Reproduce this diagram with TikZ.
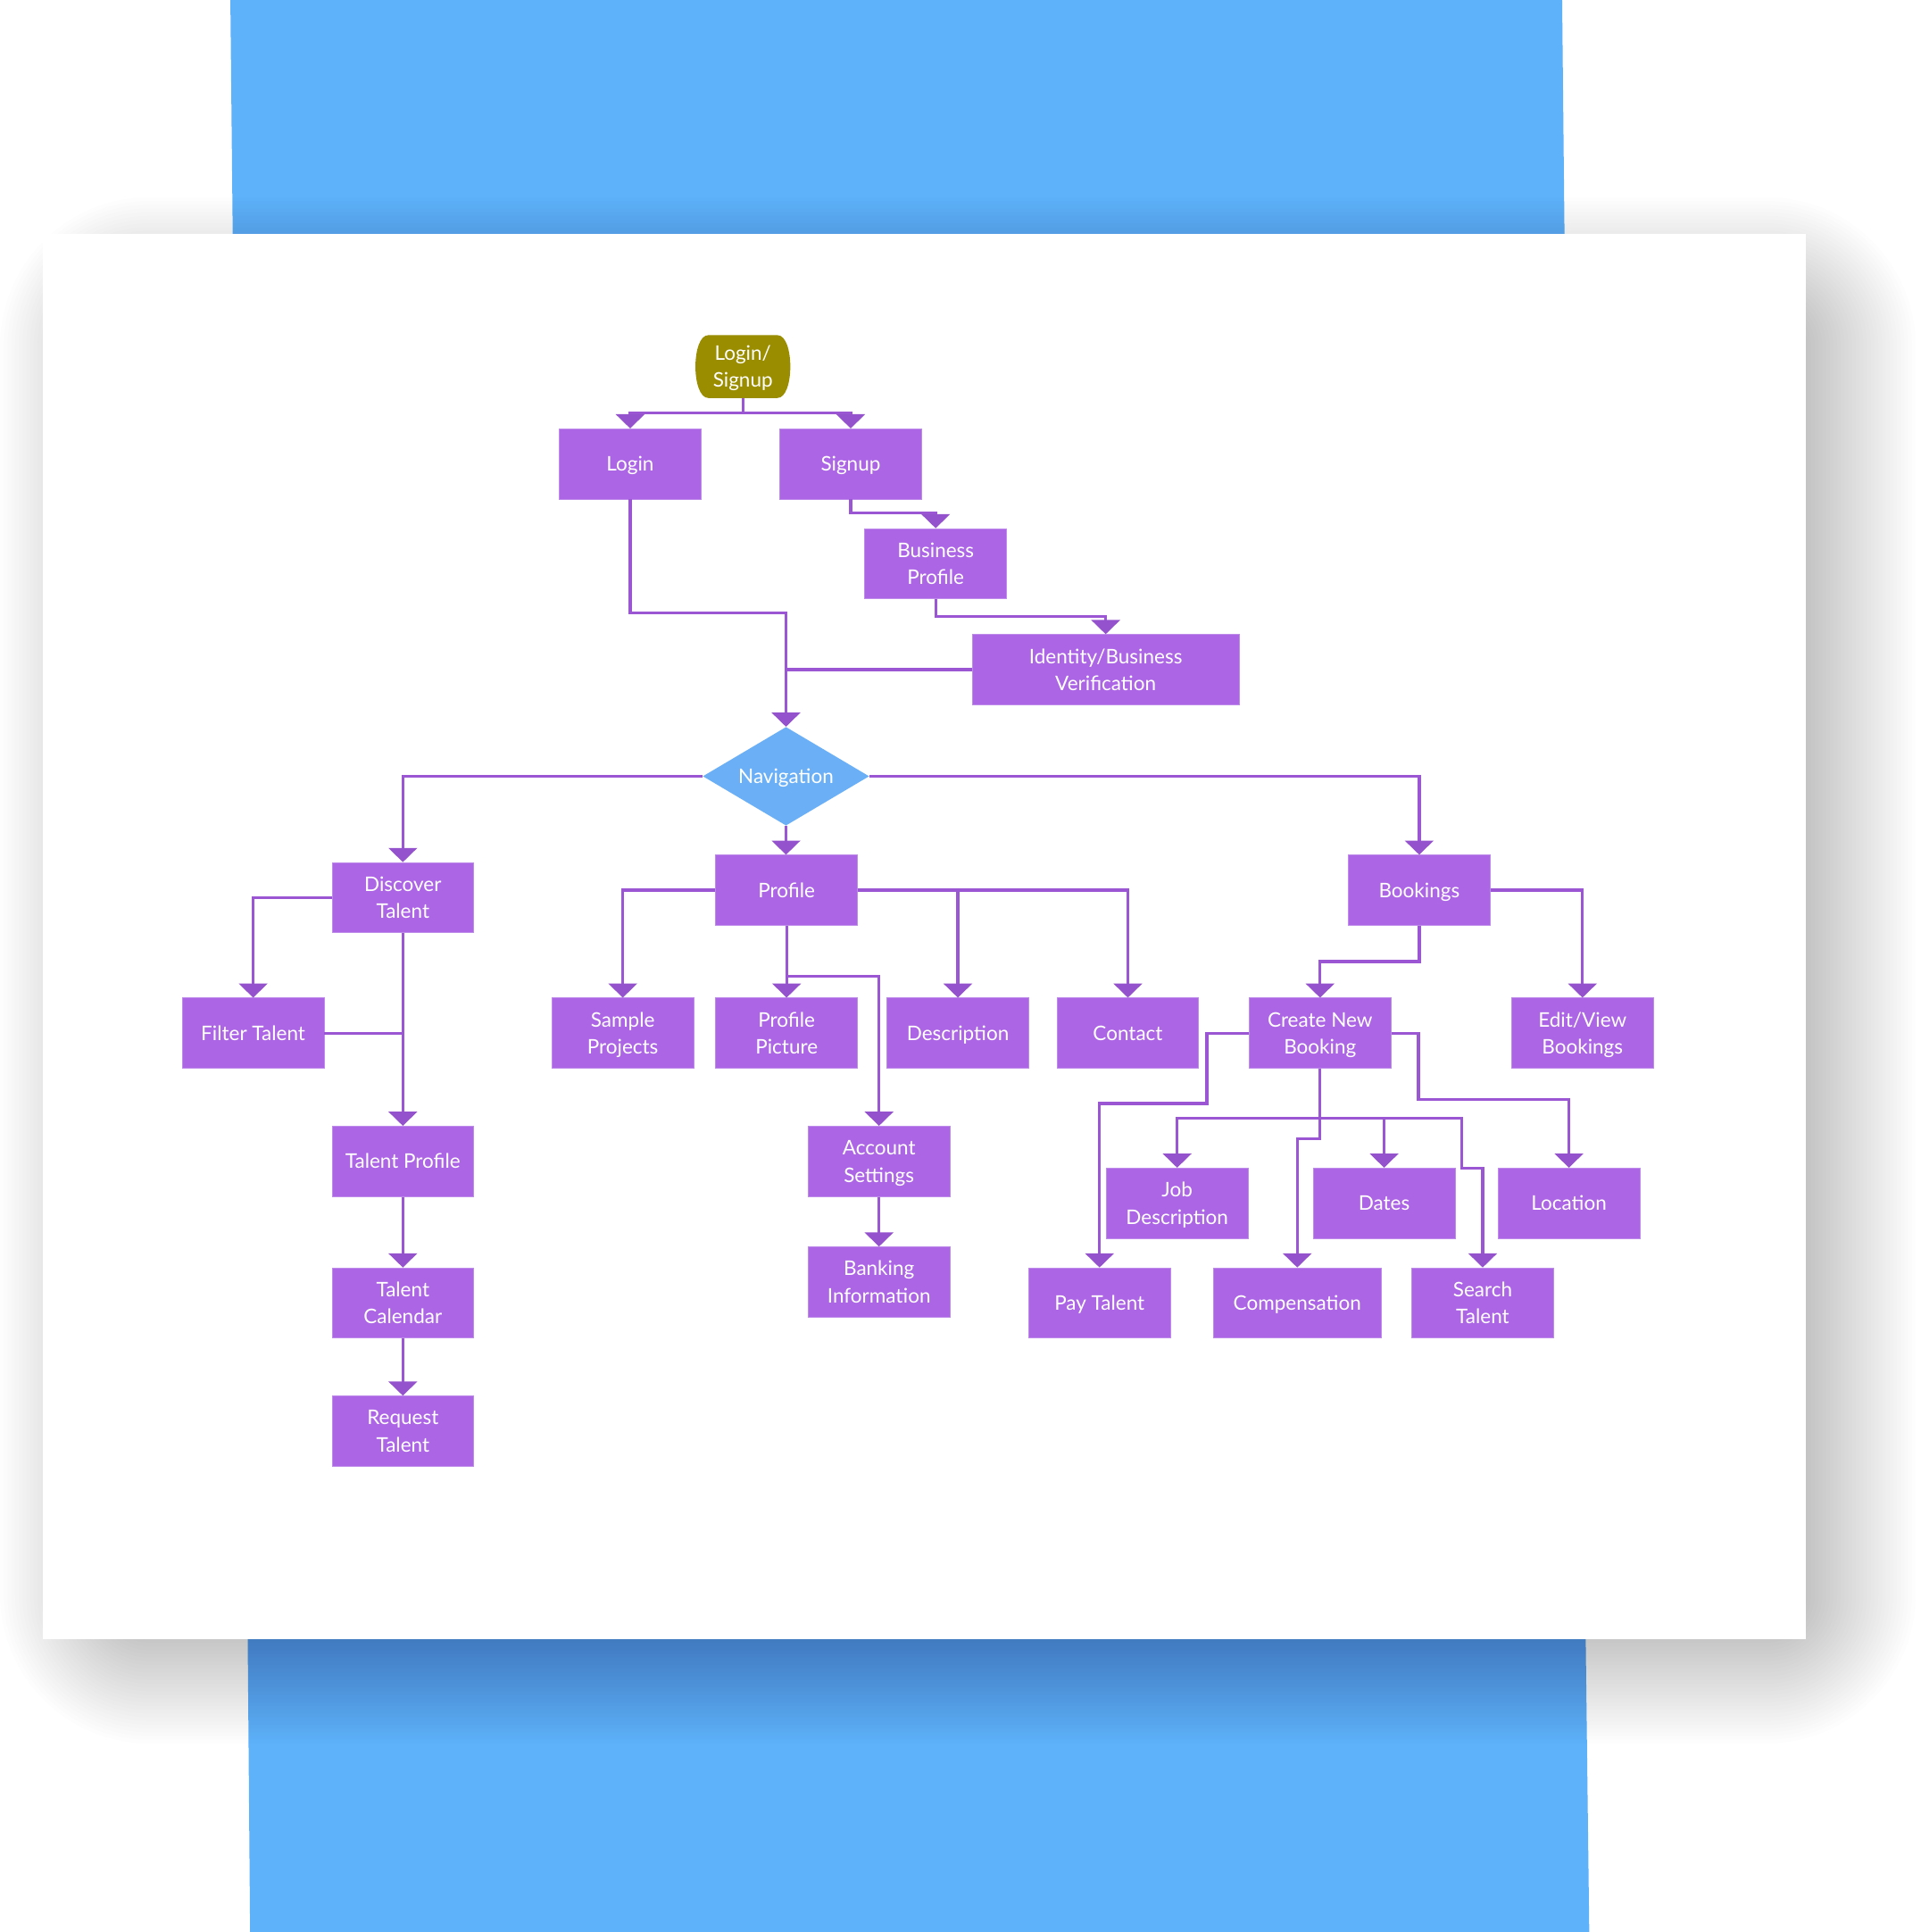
\documentclass[tikz,border=0pt]{standalone}
\usepackage{fontspec}
\setmainfont{Lato}
\usetikzlibrary{arrows.meta,shapes.geometric,calc}
\definecolor{bandblue}{HTML}{5DB2F9}
\definecolor{boxpurple}{HTML}{AC65E4}
\definecolor{boxedge}{HTML}{BE8BEA}
\definecolor{linepurple}{HTML}{9B57D3}
\definecolor{arrowpurple}{HTML}{9452CD}
\definecolor{navblue}{HTML}{6BB0F7}
\definecolor{olivegreen}{HTML}{9A8E00}
\newcommand{\cl}[1]{\raisebox{0pt}[11.8pt][0pt]{#1}}
\begin{document}
\begin{tikzpicture}[x=1pt,y=-1pt,
  lbl/.style={text=white, font=\fontsize{16.3}{22}\selectfont, align=center},
  box/.style={lbl, rectangle, fill=boxpurple, draw=boxedge, line width=0.6pt, minimum width=115pt, minimum height=57pt, inner sep=2pt},
  ln/.style={draw=linepurple, line width=2.4pt},
  arr/.style={ln, -{Triangle[width=23pt,length=11.5pt,color=arrowpurple]}},
]
% canvas
\useasboundingbox (0,0) rectangle (1559,1568);
\fill[white] (0,0) rectangle (1559,1568);
% blue bands
\fill[bandblue] (187,0) -- (1268,0) -- (1270,200) -- (189,200) -- cycle;
\fill[bandblue] (201,1320) -- (1287,1320) -- (1290,1568) -- (203,1568) -- cycle;
% card shadow (soft, layered)
\foreach \i in {0,...,39}{
  \pgfmathsetmacro{\d}{\i*3.03}
  \pgfmathsetmacro{\r}{max(121-\d,1)}
  \fill[black, opacity=0.0089, rounded corners=\r pt]
    ({0+\d},{160+\d}) rectangle ({1555-\d},{1415-\d});
}
% card
\fill[white] (35,190) rectangle (1466,1330);

% start terminator (barrel shape)
\fill[olivegreen] (575,272) -- (631,272) .. controls (645,272) and (645,323) .. (631,323)
  -- (575,323) .. controls (561,323) and (561,272) .. (575,272) -- cycle;
\node[lbl, minimum width=77pt, minimum height=51pt, inner sep=0pt] (ls) at (603,297.5) {\cl{Login/}\\\cl{Signup}};

% nodes
\node[box] (login) at (511.5,376.5) {\cl{Login}};
\node[box] (signup) at (690.5,376.5) {\cl{Signup}};
\node[box] (bp) at (759.5,457.5) {\cl{Business}\\\cl{Profile}};
\node[box, minimum width=217pt] (idv) at (897.5,543.5) {\cl{Identity/Business}\\\cl{Verification}};
\node[lbl, diamond, fill=navblue, minimum width=135pt, minimum height=80pt, inner sep=0pt, aspect=1.7] (nav) at (638,630) {\cl{Navigation}};
\node[box] (dt) at (327,728.5) {\cl{Discover}\\\cl{Talent}};
\node[box] (prof) at (638.5,722.5) {\cl{Profile}};
\node[box] (bk) at (1152,722.5) {\cl{Bookings}};
\node[box] (ft) at (205.5,838.5) {\cl{Filter Talent}};
\node[box] (sp) at (505.5,838.5) {\cl{Sample}\\\cl{Projects}};
\node[box] (pp) at (638.5,838.5) {\cl{Profile}\\\cl{Picture}};
\node[box] (desc) at (777.5,838.5) {\cl{Description}};
\node[box] (cont) at (915.5,838.5) {\cl{Contact}};
\node[box] (cnb) at (1071.5,838.5) {\cl{Create New}\\\cl{Booking}};
\node[box] (ev) at (1284.5,838.5) {\cl{Edit/View}\\\cl{Bookings}};
\node[box] (tp) at (327,942.5) {\cl{Talent Profile}};
\node[box] (as) at (713.5,942.5) {\cl{Account}\\\cl{Settings}};
\node[box] (jd) at (955.5,976.5) {\cl{Job}\\\cl{Description}};
\node[box] (dates) at (1123.5,976.5) {\cl{Dates}};
\node[box] (loc) at (1273.5,976.5) {\cl{Location}};
\node[box] (bi) at (713.5,1040.5) {\cl{Banking}\\\cl{Information}};
\node[box] (tc) at (327,1057.5) {\cl{Talent}\\\cl{Calendar}};
\node[box] (pay) at (892.5,1057.5) {\cl{Pay Talent}};
\node[box, minimum width=136pt] (comp) at (1053,1057.5) {\cl{Compensation}};
\node[box] (st) at (1203.5,1057.5) {\cl{Search}\\\cl{Talent}};
\node[box] (rt) at (327,1161.5) {\cl{Request}\\\cl{Talent}};

% connectors
\path (ls.south) ++(0,12) coordinate (lsj);
\draw[ln] (ls.south) -- (lsj);
\draw[arr] (lsj) -| (login.north);
\draw[arr] (lsj) -| (signup.north);
\draw[arr] (signup.south) -- ++(0,11) -| (bp.north);
\draw[arr] (bp.south) -- ++(0,14) -| (idv.north);
\draw[arr] (login.south) -- ++(0,92) -| (nav.north);
\draw[ln] (idv.west) -- (idv.west -| nav.north);
\draw[arr] (nav.west) -| (dt.north);
\draw[arr] (nav.east) -| (bk.north);
\draw[arr] (nav.south) -- (nav.south |- prof.north);
% discover branch
\draw[arr] (dt.west) -| (ft.north);
\draw[arr] (dt.south) -- (tp.north);
\draw[ln] (ft.east) -- (ft.east -| dt.south);
\draw[arr] (tp.south) -- (tc.north);
\draw[arr] (tc.south) -- (rt.north);
% profile branch
\draw[arr] (prof.west) -| (sp.north);
\draw[arr] (prof.south) -- (pp.north);
\draw[arr] (prof.east) -| (desc.north);
\draw[arr] (prof.east) -| (cont.north);
\path (prof.south) ++(0,41) coordinate (pj);
\draw[arr] (pj) -| (as.north);
\draw[arr] (as.south) -- (bi.north);
% bookings branch
\draw[arr] (bk.south) -- ++(0,29) -| (cnb.north);
\draw[arr] (bk.east) -| (ev.north);
\draw[arr] (cnb.west) -- ++(-34,0) -- ++(0,57) -| (pay.north);
\draw[arr] (cnb.east) -- ++(22,0) -- ++(0,54) -| (loc.north);
\path (cnb.south) ++(0,40) coordinate (cj);
\draw[ln] (cnb.south) -- (cj);
\draw[arr] (cj) -| (jd.north);
\draw[arr] (cj) -| (dates.north);
\draw[arr] (cj) -- ++(115,0) -- ++(0,41) -| (st.north);
\draw[arr] (cj) -- ++(0,17) -| (comp.north);
\end{tikzpicture}
\end{document}
